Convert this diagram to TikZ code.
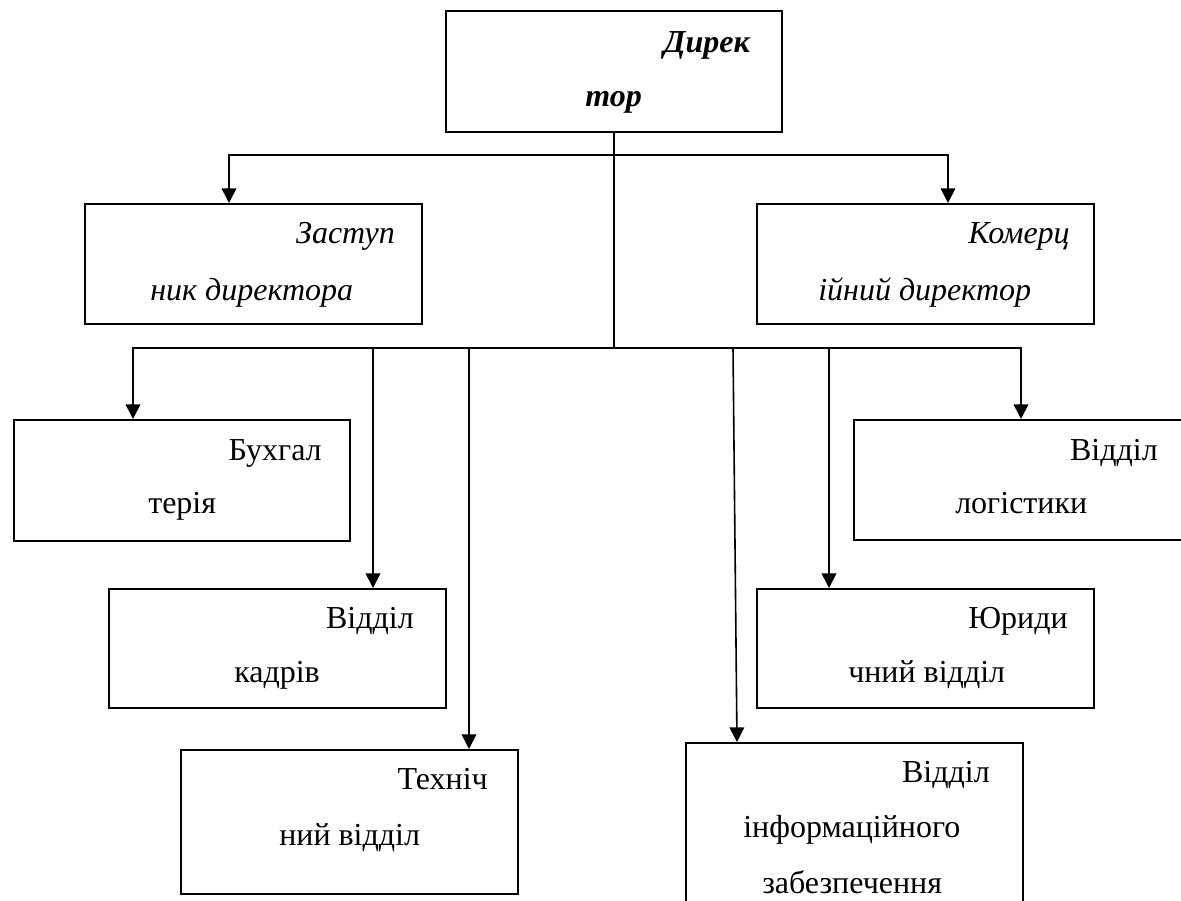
\documentclass[tikz,border=0pt]{standalone}
\usepackage{fontspec}
\setmainfont{Liberation Serif}
\usetikzlibrary{arrows.meta,calc}
\begin{document}
\begin{tikzpicture}[x=0.75pt,y=-0.75pt,
  box/.style={draw,line width=1.4pt,anchor=north west,inner sep=0pt},
  conn/.style={line width=1.2pt},
  arr/.style={conn,-{Triangle[length=11pt,width=11pt]}},
  txt/.style={inner sep=0pt,font=\fontsize{24}{28}\selectfont},
  first/.style={txt,anchor=base east},
  second/.style={txt,anchor=base west}]
\useasboundingbox (0,0) rectangle (1181,900);
\clip (0,0) rectangle (1181,900);
% boxes
\node[box,minimum width=252pt,minimum height=90.75pt] (dir) at (445,10) {};
\node[box,minimum width=252.75pt,minimum height=90pt] (zast) at (84,203) {};
\node[box,minimum width=252.75pt,minimum height=90pt] (kom) at (756,203) {};
\node[box,minimum width=252pt,minimum height=90.75pt] (buh) at (13,419) {};
\node[box,minimum width=252.75pt,minimum height=89.25pt] (kadr) at (108,588) {};
\node[box,minimum width=252.75pt,minimum height=108pt] (tech) at (180,749) {};
\node[box,minimum width=252.75pt,minimum height=150pt] (info) at (685,742) {};
\node[box,minimum width=252.75pt,minimum height=89.25pt] (yur) at (756,588) {};
\node[box,minimum width=255pt,minimum height=90pt] (log) at (853,419) {};
% texts
\node[first,font=\fontsize{24}{28}\selectfont\bfseries\itshape] (dirA) at (750,52) {Дирек};
\node[second,font=\fontsize{24}{28}\selectfont\bfseries\itshape] (dirB) at (585,106) {тор};
\node[first,font=\fontsize{24}{28}\selectfont\itshape] (zastA) at (395,243) {Заступ};
\node[second,font=\fontsize{24}{28}\selectfont\itshape] (zastB) at (150,300) {ник директора};
\node[first,font=\fontsize{24}{28}\selectfont\itshape] (komA) at (1070,243) {Комерц};
\node[second,font=\fontsize{24}{28}\selectfont\itshape] (komB) at (818,300) {ійний директор};
\node[first] (buhA) at (322,460) {Бухгал};
\node[second] (buhB) at (148,513) {терія};
\node[first] (kadrA) at (414,628) {Відділ};
\node[second] (kadrB) at (234,682) {кадрів};
\node[first] (techA) at (488,789) {Техніч};
\node[second] (techB) at (279,845) {ний відділ};
\node[first] (infoA) at (990,782) {Відділ};
\node[second] (infoB) at (743,837) {інформаційного};
\node[second] (infoC) at (762,893) {забезпечення};
\node[first] (yurA) at (1068,628) {Юриди};
\node[second] (yurB) at (848,682) {чний відділ};
\node[first] (logA) at (1158,460) {Відділ};
\node[second] (logB) at (955,513) {логістики};
% connectors
\coordinate (j1) at (dir.south |- 0,155);
\coordinate (j2) at (dir.south |- 0,348);
\coordinate (b5) at (733,348);
\draw[conn] (dir.south) -- (j2);
\draw[arr] (j1) -| ($(zast.north west)+(145,0)$);
\draw[arr] (j1) -| ($(kom.north west)+(192,0)$);
\draw[arr] (j2) -| ($(buh.north west)+(120,0)$);
\draw[arr] (j2) -| ($(kadr.north west)+(265,0)$);
\draw[arr] (j2) -| ($(tech.north west)+(289,0)$);
\draw[arr] (j2) -| ($(yur.north west)+(73,0)$);
\draw[arr] (j2) -| ($(log.north west)+(168,0)$);
\draw[arr] (b5) -- ($(info.north west)+(52,0)$);
\end{tikzpicture}
\end{document}
